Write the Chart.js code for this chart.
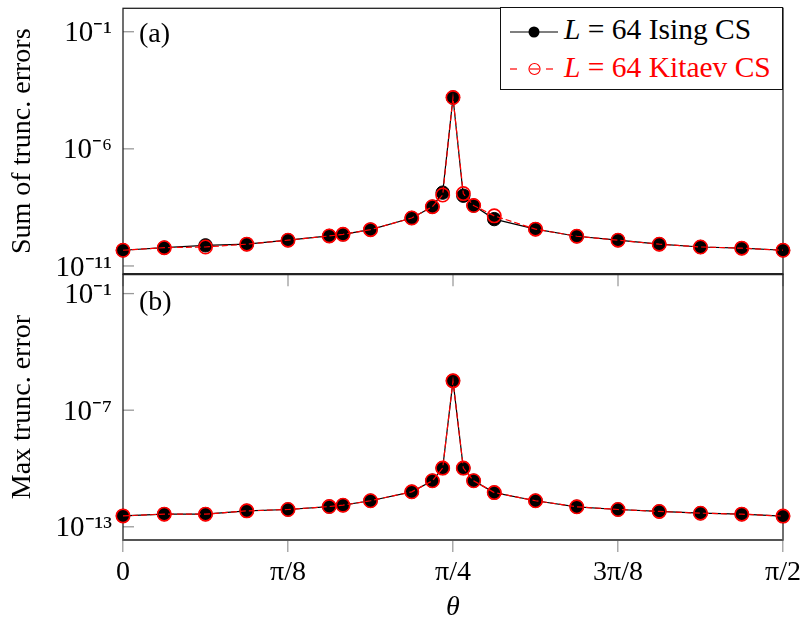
<!DOCTYPE html>
<html>
<head>
<meta charset="utf-8">
<script src="https://cdn.jsdelivr.net/npm/chart.js@4.4.1/dist/chart.umd.min.js"></script>
<style>
  html, body { margin: 0; padding: 0; background: #fff; }
  #wrap { position: relative; width: 806px; height: 625px; font-family: 'Liberation Serif', 'Times New Roman', serif; }
  #chart { position: absolute; left: 0; top: 0; }
  .txt { position: absolute; font-size: 28px; line-height: 28px; white-space: nowrap; color: #000; }
  #legend { position: absolute; left: 500px; top: 7px; width: 283px; height: 83px; border: 1.3px solid #111; background: #fff; box-sizing: border-box; }
  #legend svg { position: absolute; left: 0; top: 0; }
  .leg { position: absolute; font-size: 29.5px; line-height: 29px; white-space: nowrap; }
  i { font-style: italic; }
</style>
</head>
<body>
<div id="wrap">
  <canvas id="chart" width="806" height="625"></canvas>
  <div class="txt" id="panelA" style="left:139px; top:19px;">(a)</div>
  <div class="txt" id="panelB" style="left:139px; top:287px;">(b)</div>
  <div id="legend">
    <svg width="283" height="83" viewBox="0 0 283 83">
      <line x1="9" y1="24" x2="57" y2="24" stroke="#000" stroke-width="1.2"/>
      <circle cx="33" cy="24" r="5.5" fill="#000"/>
      <line x1="9" y1="61" x2="16" y2="61" stroke="#f00" stroke-width="1.2"/>
      <line x1="29" y1="61" x2="38" y2="61" stroke="#f00" stroke-width="1.2"/>
      <line x1="45" y1="61" x2="52" y2="61" stroke="#f00" stroke-width="1.2"/>
      <circle cx="33.5" cy="61" r="5.5" fill="none" stroke="#f00" stroke-width="1.2"/>
    </svg>
    <div class="leg" id="leg1" style="left:63px; top:7px; color:#000;"><i>L</i> = 64 Ising CS</div>
    <div class="leg" id="leg2" style="left:63px; top:45px; color:#f00;"><i>L</i> = 64 Kitaev CS</div>
  </div>
</div>
<script>
const PI = Math.PI;

// theta values (radians)
const thetaValues = [0, PI/32, 2*PI/32, 3*PI/32, 4*PI/32, 5*PI/32, PI/6, 6*PI/32, 7*PI/32,
  7.5*PI/32, 7.75*PI/32, 8*PI/32, 8.25*PI/32, 8.5*PI/32, 9*PI/32, 10*PI/32, 11*PI/32,
  12*PI/32, 13*PI/32, 14*PI/32, 15*PI/32, 16*PI/32];

// (a) Sum of truncation errors
const sumIsing  = [4.68e-11, 6.03e-11, 7.59e-11, 8.51e-11, 1.26e-10, 1.91e-10, 2.24e-10, 3.55e-10, 1.12e-9, 3.39e-9,
  1.35e-8, 1.55e-4, 1.0e-8, 3.8e-9, 1.0e-9, 3.72e-10, 1.86e-10, 1.26e-10, 8.5e-11, 6.46e-11, 5.75e-11, 4.68e-11];
const sumKitaev = [4.68e-11, 6.03e-11, 6.46e-11, 8.51e-11, 1.26e-10, 1.91e-10, 2.24e-10, 3.55e-10, 1.12e-9, 3.39e-9,
  1.07e-8, 1.55e-4, 1.23e-8, 3.8e-9, 1.38e-9, 3.72e-10, 1.86e-10, 1.26e-10, 8.5e-11, 6.46e-11, 5.75e-11, 4.68e-11];

// (b) Max truncation error
const maxIsing  = [3.63e-13, 4.47e-13, 4.47e-13, 6.61e-13, 7.76e-13, 1.10e-12, 1.29e-12, 2.19e-12, 6.31e-12, 2.34e-11,
  1.05e-10, 3.24e-6, 1.05e-10, 2.34e-11, 5.75e-12, 2.19e-12, 1.07e-12, 7.76e-13, 6.17e-13, 5.01e-13, 4.47e-13, 3.55e-13];
const maxKitaev = [3.63e-13, 4.47e-13, 4.47e-13, 6.61e-13, 7.76e-13, 1.10e-12, 1.29e-12, 2.19e-12, 6.31e-12, 2.34e-11,
  1.05e-10, 3.24e-6, 1.05e-10, 2.34e-11, 5.75e-12, 2.19e-12, 1.07e-12, 7.76e-13, 6.17e-13, 5.01e-13, 4.47e-13, 3.55e-13];

// ticks
const xTickValues = [0, PI/8, PI/4, 3*PI/8, PI/2];
const xTickLabels = ['0', 'π/8', 'π/4', '3π/8', 'π/2'];
const sumTickValues = [1e-11, 1e-6, 1e-1];
const sumTickLabels = ['10⁻¹¹', '10⁻⁶', '10⁻¹'];
const maxTickValues = [1e-13, 1e-7, 1e-1];
const maxTickLabels = ['10⁻¹³', '10⁻⁷', '10⁻¹'];

const seriesNames = ['L = 64 Ising CS', 'L = 64 Kitaev CS'];

const FONT = "'Liberation Serif', 'Times New Roman', serif";
const pts = (ys) => thetaValues.map((t, i) => ({ x: t, y: ys[i] }));

function isingStyle(axis) {
  return {
    label: seriesNames[0], yAxisID: axis, order: 2,
    borderColor: '#000', borderWidth: 1.2, backgroundColor: '#000',
    pointRadius: 6.7, pointBackgroundColor: '#000', pointBorderColor: '#000', pointBorderWidth: 1,
    clip: false, tension: 0
  };
}
function kitaevStyle(axis) {
  return {
    label: seriesNames[1], yAxisID: axis, order: 1,
    borderColor: '#f00', borderWidth: 1.2, borderDash: [6, 3], backgroundColor: 'rgba(0,0,0,0)',
    pointRadius: 6.7, pointBackgroundColor: 'rgba(0,0,0,0)', pointBorderColor: '#f00', pointBorderWidth: 1.6,
    clip: false, tension: 0
  };
}

const framePlugin = {
  id: 'frames',
  beforeDatasetsDraw(chart) {
    const ctx = chart.ctx;
    const L = chart.chartArea.left, R = chart.chartArea.right;
    const yT = chart.scales.yTop, yB = chart.scales.yBot, x = chart.scales.x;
    ctx.save();
    // inner y ticks
    ctx.strokeStyle = '#999'; ctx.lineWidth = 1.3;
    sumTickValues.forEach(v => { const p = yT.getPixelForValue(v); ctx.beginPath(); ctx.moveTo(L, p); ctx.lineTo(L + 11, p); ctx.stroke(); });
    maxTickValues.forEach(v => { const p = yB.getPixelForValue(v); ctx.beginPath(); ctx.moveTo(L, p); ctx.lineTo(L + 11, p); ctx.stroke(); });
    // x ticks at top of lower panel
    ctx.strokeStyle = '#aaa'; ctx.lineWidth = 1.5;
    xTickValues.forEach(v => { const p = x.getPixelForValue(v); ctx.beginPath(); ctx.moveTo(p, yB.top); ctx.lineTo(p, yB.top + 12); ctx.stroke(); });
    // frames
    ctx.strokeStyle = '#222'; ctx.lineWidth = 1.3;
    ctx.strokeRect(L, yT.top, R - L, yT.bottom - yT.top);
    ctx.strokeRect(L, yB.top, R - L, yB.bottom - yB.top);
    ctx.lineWidth = 2.4;
    ctx.beginPath(); ctx.moveTo(L, yT.bottom); ctx.lineTo(R, yT.bottom); ctx.stroke();
    ctx.strokeStyle = '#555'; ctx.lineWidth = 2;
    ctx.beginPath(); ctx.moveTo(L, yB.bottom); ctx.lineTo(R, yB.bottom); ctx.stroke();
    ctx.restore();
  }
};

function yScale(minV, tickValues, tickLabels, title, weight) {
  return {
    type: 'logarithmic', position: 'left', stack: 'panels', stackWeight: 1, weight: weight,
    min: minV, max: 1,
    grid: { display: false, drawTicks: false },
    border: { display: false },
    afterBuildTicks: (s) => { s.ticks = tickValues.map(v => ({ value: v })); },
    afterFit: (s) => { s.width = 123; s.paddingTop = 0; s.paddingBottom = 0; },
    ticks: {
      autoSkip: false, padding: 11, labelOffset: 2, color: '#000',
      font: { family: FONT, size: 29 },
      callback: (v, i) => tickLabels[i]
    },
    title: { display: true, text: title, color: '#000', font: { family: FONT, size: 28 }, padding: { top: 6, bottom: 0 } }
  };
}

new Chart(document.getElementById('chart'), {
  type: 'line',
  data: {
    datasets: [
      Object.assign({ data: pts(sumIsing) }, isingStyle('yTop')),
      Object.assign({ data: pts(sumKitaev) }, kitaevStyle('yTop')),
      Object.assign({ data: pts(maxIsing) }, isingStyle('yBot')),
      Object.assign({ data: pts(maxKitaev) }, kitaevStyle('yBot'))
    ]
  },
  options: {
    responsive: false, animation: false, devicePixelRatio: 1, events: [],
    layout: { padding: { left: 0, right: 23, top: 7, bottom: 0 } },
    plugins: { legend: { display: false }, tooltip: { enabled: false } },
    scales: {
      x: {
        type: 'linear', position: 'bottom', min: 0, max: PI / 2,
        grid: { display: true, drawOnChartArea: false, drawTicks: true, tickLength: 12, color: '#aaa', lineWidth: 1.5 },
        border: { display: false },
        afterBuildTicks: (s) => { s.ticks = xTickValues.map(v => ({ value: v })); },
        afterFit: (s) => { s.height = 85; s.paddingLeft = 0; s.paddingRight = 0; },
        ticks: { autoSkip: false, maxRotation: 0, padding: 4, color: '#000', font: { family: FONT, size: 28 },
          callback: (v, i) => xTickLabels[i] },
        title: { display: true, text: 'θ', color: '#000', font: { family: FONT, size: 28, style: 'italic' }, padding: { top: 0, bottom: 1 } }
      },
      yTop: yScale(4.47e-12, sumTickValues, sumTickLabels, 'Sum of trunc. errors', 2),
      yBot: yScale(2.09e-14, maxTickValues, maxTickLabels, 'Max trunc. error', 1)
    }
  },
  plugins: [framePlugin]
});
</script>
</body>
</html>
